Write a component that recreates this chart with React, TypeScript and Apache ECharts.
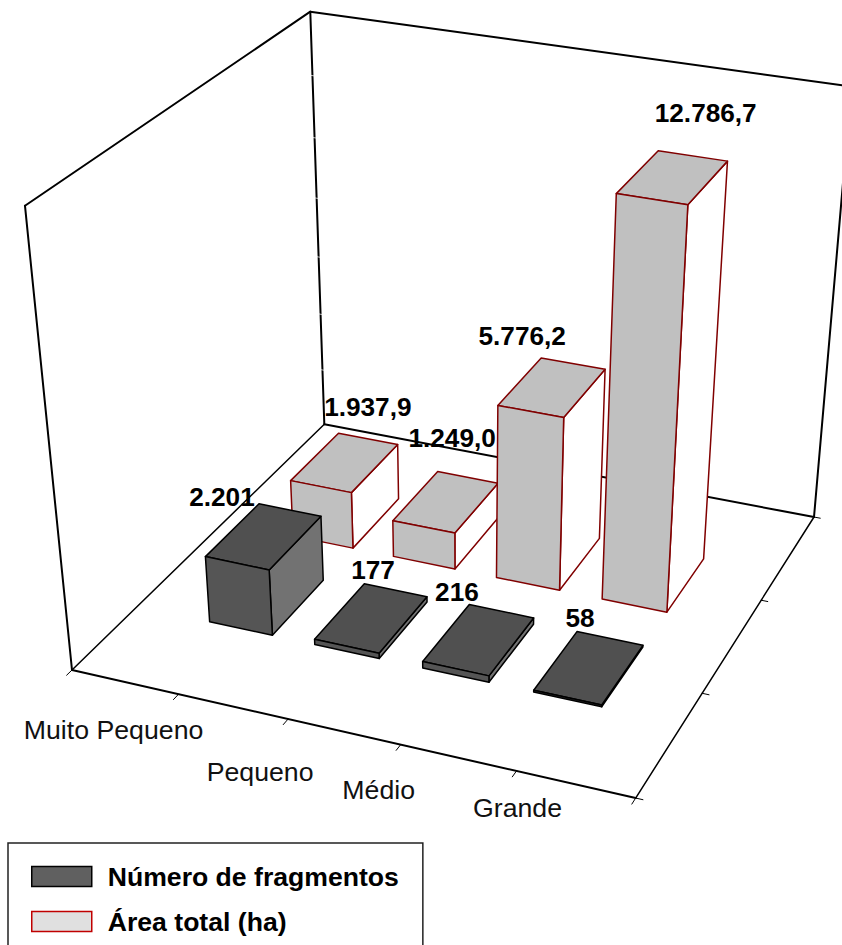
import React, { useEffect, useRef } from "react";
import * as echarts from "echarts";

const categories = ["Muito Pequeno", "Pequeno", "Médio", "Grande"];
const fragmentCounts = [2201, 177, 216, 58];
const areaTotals = [1937.9, 1249.0, 5776.2, 12786.7];
const seriesNames = ["Número de fragmentos", "Área total (ha)"];
const axisMax = 14000;
const heightTickStep = 2000;

// Pixel nudges of each hand-placed label, relative to the point it belongs to.
const fragmentLabelNudge = [[-42, -39], [1.5, -48], [-22, -47], [-9, -49]];
const areaLabelNudge = [[23, -55], [6, -64], [-30, -51], [33, -64]];
const categoryLabelNudge = [[-65, 36], [-28, 53], [-22, 45], [1, 37]];

// Perspective camera: floor runs over x,y in 0..1, z = 1 is the top of the walls.
const PX = [520.7, 309.3, -49.7, 72];
const PY = [74.1, -171.2, -486.3, 670];
const PW = [-0.0676, 0.1757, -0.107, 1];
const project = (x: number, y: number, z: number): number[] => {
  const w = PW[0] * x + PW[1] * y + PW[2] * z + PW[3];
  return [
    (PX[0] * x + PX[1] * y + PX[2] * z + PX[3]) / w,
    (PY[0] * x + PY[1] * y + PY[2] * z + PY[3]) / w,
  ];
};

const halfWidth = 0.06;
const halfDepth = 0.103;
const frontRow = 1 / 3;
const backRow = 2 / 3;
const labelFont = '"Liberation Sans", Arial, sans-serif';

// Turns a [category position, value] pair into floor/height coordinates via the hidden axes.
const toUnit = (params: any, api: any) => {
  const [px, py] = api.coord([api.value(0), api.value(1)]);
  const r = params.coordSys;
  return { u: (px - r.x) / r.width, h: (r.y + r.height - py) / r.height };
};

const barRenderer =
  (row: number, front: string, top: string, side: string, stroke: string) =>
  (params: any, api: any) => {
    const { u, h } = toUnit(params, api);
    const x0 = u - halfWidth, x1 = u + halfWidth;
    const y0 = row - halfDepth, y1 = row + halfDepth;
    const face = (pts: number[][], fill: string) => ({
      type: "polygon",
      shape: { points: pts.map((p) => project(p[0], p[1], p[2])) },
      style: { fill, stroke, lineWidth: 1.5, lineJoin: "round" },
    });
    return {
      type: "group",
      children: [
        face([[x1, y0, 0], [x1, y1, 0], [x1, y1, h], [x1, y0, h]], side),
        face([[x0, y0, h], [x1, y0, h], [x1, y1, h], [x0, y1, h]], top),
        face([[x0, y0, 0], [x1, y0, 0], [x1, y0, h], [x0, y0, h]], front),
      ],
    };
  };

const valueLabelRenderer =
  (row: number, values: number[], nudges: number[][], digits: number) =>
  (params: any, api: any) => {
    const { u, h } = toUnit(params, api);
    const i = params.dataIndex;
    const [sx, sy] = project(u, row, h);
    return {
      type: "text",
      x: sx + nudges[i][0],
      y: sy + nudges[i][1],
      style: {
        text: values[i].toLocaleString("pt-BR", {
          minimumFractionDigits: digits,
          maximumFractionDigits: digits,
        }),
        font: `bold 26.2px ${labelFont}`,
        fill: "#000",
        align: "center",
        verticalAlign: "middle",
      },
    };
  };

const categoryLabelRenderer = (params: any, api: any) => {
  const { u } = toUnit(params, api);
  const i = params.dataIndex;
  const [sx, sy] = project(u, 0, 0);
  return {
    type: "text",
    x: sx + categoryLabelNudge[i][0],
    y: sy + categoryLabelNudge[i][1],
    style: {
      text: categories[i],
      font: `26.7px ${labelFont}`,
      fill: "#111",
      align: "center",
      verticalAlign: "middle",
    },
  };
};

// Walls, floor outline and tick marks.
const frameRenderer = () => {
  const seg = (a: number[], b: number[], lineWidth: number, stroke = "#000") => {
    const p = project(a[0], a[1], a[2]);
    const q = project(b[0], b[1], b[2]);
    return {
      type: "line",
      shape: { x1: p[0], y1: p[1], x2: q[0], y2: q[1] },
      style: { stroke, lineWidth, lineCap: "round" },
    };
  };
  const children: any[] = [
    seg([0, 0, 0], [0, 0, 1], 2),
    seg([0, 1, 0], [0, 1, 1], 2),
    seg([1, 1, 0], [1, 1, 1], 2),
    seg([0, 0, 1], [0, 1, 1], 2),
    seg([0, 1, 1], [1, 1, 1], 2),
    seg([0, 0, 0], [1, 0, 0], 2),
    seg([0, 1, 0], [1, 1, 0], 2),
    seg([0, 0, 0], [0, 1, 0], 1.5),
    seg([1, 0, 0], [1, 1, 0], 1.5),
  ];
  for (let i = 0; i <= 5; i++) children.push(seg([i / 5, 0, 0], [i / 5, -0.018, 0], 1));
  for (let i = 0; i <= 3; i++) children.push(seg([1, i / 3, 0], [1.012, i / 3, 0], 1));
  // Height gridlines are white, so they only show where they cross the rear corner.
  for (let v = heightTickStep; v < axisMax; v += heightTickStep) {
    const z = v / axisMax;
    children.push(seg([-0.006, 1, z], [0.006, 1, z], 0.7, "#fff"));
  }
  return { type: "group", children };
};

const positioned = (values: number[]) => values.map((v, i) => [i + 1, v]);

export default function App() {
  const ref = useRef<HTMLDivElement>(null);
  useEffect(() => {
    const chart = echarts.init(ref.current, null, { renderer: "svg" });
    chart.setOption({
      animation: false,
      backgroundColor: "#fff",
      grid: { left: 0, right: 0, top: 0, bottom: 0 },
      xAxis: { type: "value", min: 0, max: 5, show: false },
      yAxis: { type: "value", min: 0, max: axisMax, show: false },
      legend: {
        orient: "vertical",
        left: 8,
        top: 843,
        width: 372,
        height: 120,
        padding: [20, 24, 30, 23],
        itemWidth: 60,
        itemHeight: 20,
        itemGap: 18,
        borderColor: "#222",
        borderWidth: 1.5,
        selectedMode: false,
        textStyle: {
          fontFamily: labelFont,
          fontWeight: "bold",
          fontSize: 26.6,
          color: "#000",
          padding: [0, 0, 0, 11],
        },
        data: [
          {
            name: seriesNames[0],
            icon: "rect",
            itemStyle: { color: "#606060", borderColor: "#000", borderWidth: 1.5 },
          },
          {
            name: seriesNames[1],
            icon: "rect",
            itemStyle: { color: "#E0E0E0", borderColor: "#C00000", borderWidth: 1.5 },
          },
        ],
      },
      series: [
        { type: "custom", silent: true, data: [[0, 0]], renderItem: frameRenderer },
        {
          type: "custom",
          name: seriesNames[1],
          silent: true,
          data: positioned(areaTotals),
          renderItem: barRenderer(backRow, "#C0C0C0", "#C0C0C0", "#FFFFFF", "#800000"),
        },
        {
          type: "custom",
          name: seriesNames[0],
          silent: true,
          data: positioned(fragmentCounts),
          renderItem: barRenderer(frontRow, "#555555", "#505050", "#727272", "#000000"),
        },
        {
          type: "custom",
          silent: true,
          data: positioned(areaTotals),
          renderItem: valueLabelRenderer(backRow, areaTotals, areaLabelNudge, 1),
        },
        {
          type: "custom",
          silent: true,
          data: positioned(fragmentCounts),
          renderItem: valueLabelRenderer(frontRow, fragmentCounts, fragmentLabelNudge, 0),
        },
        {
          type: "custom",
          silent: true,
          data: positioned(categories.map(() => 0)),
          renderItem: categoryLabelRenderer,
        },
      ],
    });
    return () => chart.dispose();
  }, []);
  return (
    <div
      ref={ref}
      style={{ position: "fixed", left: 0, top: 0, width: 842, height: 945 }}
    />
  );
}
